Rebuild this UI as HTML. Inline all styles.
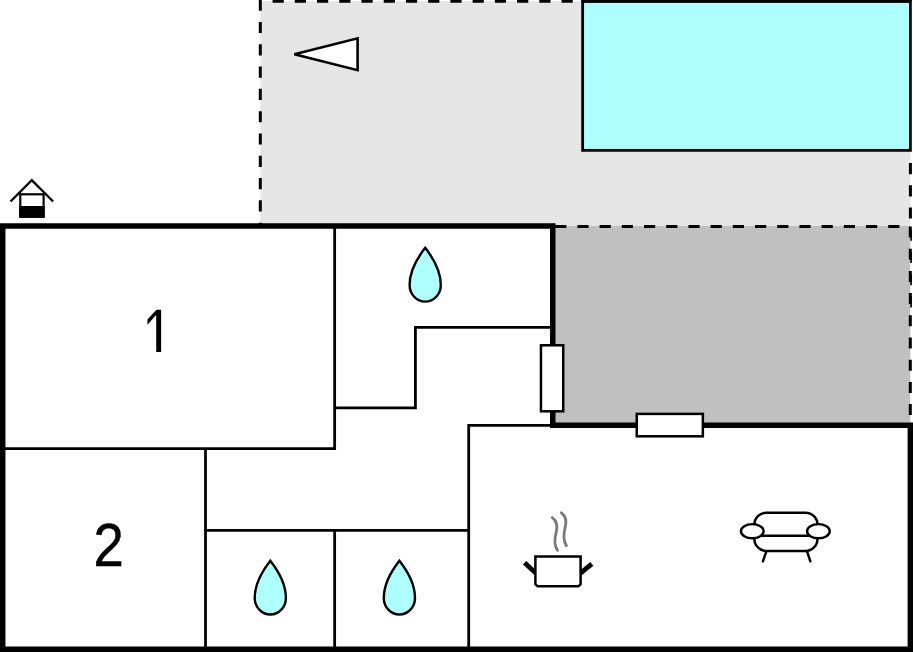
<!DOCTYPE html>
<html><head><meta charset="utf-8"><title>Floor plan</title>
<style>
html,body{margin:0;padding:0;background:#fff;overflow:hidden}
svg{display:block}
text{font-family:"Liberation Sans",sans-serif;fill:#000}
</style></head>
<body>
<svg width="913" height="652" viewBox="0 0 913 652">
<rect width="913" height="652" fill="#fff"/>
<!-- garden -->
<rect x="260.3" y="1.2" width="650.1" height="224.8" fill="#e6e6e6"/>
<g fill="none" stroke="#000" stroke-width="3">
<path d="M260.3 -0.35V226" stroke-dasharray="11.15 11.15"/>
<path d="M272.55 1.35H600" stroke-dasharray="11.2 11.03"/>
<path d="M910.4 163.1V308" stroke-dasharray="11.1 11.1"/>
</g>
<!-- terrace -->
<rect x="552.7" y="226" width="357.6" height="199.4" fill="#c0c0c0"/>
<g fill="none" stroke="#000" stroke-width="3">
<path d="M555.2 226.4H910" stroke-dasharray="11.2 11"/>
<path d="M910.3 226.5V422" stroke-dasharray="11 11.2"/>
</g>
<!-- pool -->
<rect x="582.65" y="1.5" width="327.75" height="148.85" fill="#b0ffff" stroke="#000" stroke-width="2.8"/>
<rect x="581.25" y="0" width="330.55" height="1.6" fill="#000"/>
<!-- compass -->
<path d="M294.4 54.2L357.6 38.3V70.2Z" fill="#fff" stroke="#000" stroke-width="2.6"/>
<!-- thin walls -->
<g fill="none" stroke="#000" stroke-width="2.8">
<path d="M334.65 226V448.65H3"/>
<path d="M205.5 448.65V649"/>
<path d="M205.5 530.3H468.7"/>
<path d="M334.65 530.3V649"/>
<path d="M553 425.35H468.7V649"/>
<path d="M334.65 407.9H415.4V327.4H553"/>
</g>
<!-- thick walls -->
<path d="M2.7 226H552.75V425.25H910.35V649.25H2.7Z" fill="none" stroke="#000" stroke-width="5.5"/>
<!-- windows -->
<rect x="540.95" y="345.3" width="22.3" height="66" fill="#fff" stroke="#000" stroke-width="2.5"/>
<rect x="636.75" y="413.9" width="66.1" height="22.4" fill="#fff" stroke="#000" stroke-width="2.5"/>
<!-- drops -->
<path transform="translate(425.2 285.05)" d="M0 -37.2C-8 -27 -15.6 -14 -15.6 0A15.6 16.6 0 0 0 15.6 0C15.6 -14 8 -27 0 -37.2Z" fill="#b0ffff" stroke="#000" stroke-width="2.4"/>
<path transform="translate(270.3 597.9)" d="M0 -37.2C-8 -27 -15.6 -14 -15.6 0A15.6 16.6 0 0 0 15.6 0C15.6 -14 8 -27 0 -37.2Z" fill="#b0ffff" stroke="#000" stroke-width="2.4"/>
<path transform="translate(399.4 597.9)" d="M0 -37.2C-8 -27 -15.6 -14 -15.6 0A15.6 16.6 0 0 0 15.6 0C15.6 -14 8 -27 0 -37.2Z" fill="#b0ffff" stroke="#000" stroke-width="2.4"/>
<!-- labels -->
<clipPath id="c1"><path d="M130 309.70H161.60V346.20H161.15V351.90H156.17V346.20H130Z"/></clipPath>
<g clip-path="url(#c1)"><text transform="matrix(0.94 -0.3 0 1.065 141.983 358.017)" font-size="60">1</text></g>
<text transform="translate(93.58 565.80) scale(0.9090 1.0190)" font-size="60" stroke="#000" stroke-width="0.5">2</text>
<!-- house icon -->
<g>
<path d="M10.5 201.5L31.8 180.2L53.1 201.5" fill="none" stroke="#000" stroke-width="2.3"/>
<rect x="20.3" y="194.3" width="23.3" height="22.4" fill="#fff" stroke="#000" stroke-width="2.2"/>
<rect x="19.2" y="206" width="25.5" height="11.8" fill="#000"/>
</g>
<!-- pot icon -->
<g fill="none" stroke="#000">
<path d="M552.3 517.6C557 521 558 526 556 533C554 541 554.5 546 557.5 550.3" stroke="#7a7a7a" stroke-width="2.8" stroke-linecap="round"/>
<path d="M561.3 512.8C566 516 567 521 565 528C563 536 563.5 541 566.4 545.8" stroke="#7a7a7a" stroke-width="2.8" stroke-linecap="round"/>
<path d="M524.6 562.7L536 573.3M591.8 563.8L580.3 573.3" stroke-width="4.8" stroke-linecap="butt"/>
<path d="M535.4 556.6H580.6V584.2L578.4 586.3H537.6L535.4 584.2Z" stroke-width="2.5" fill="#fff"/>
</g>
<!-- sofa icon -->
<g fill="none" stroke="#000" stroke-width="2.45">
<rect x="754.4" y="512.7" width="63.1" height="38.3" rx="12" ry="12" fill="#fff"/>
<path d="M760 535.7H812"/>
<ellipse cx="752.3" cy="531.2" rx="11.35" ry="7.1" fill="#fff"/>
<ellipse cx="818.4" cy="531.2" rx="11.35" ry="7.1" fill="#fff"/>
<path d="M766.2 551.7L762.9 561.3M807.1 551.7L810.4 561.3" stroke-linecap="round"/>
</g>
</svg>
</body></html>
